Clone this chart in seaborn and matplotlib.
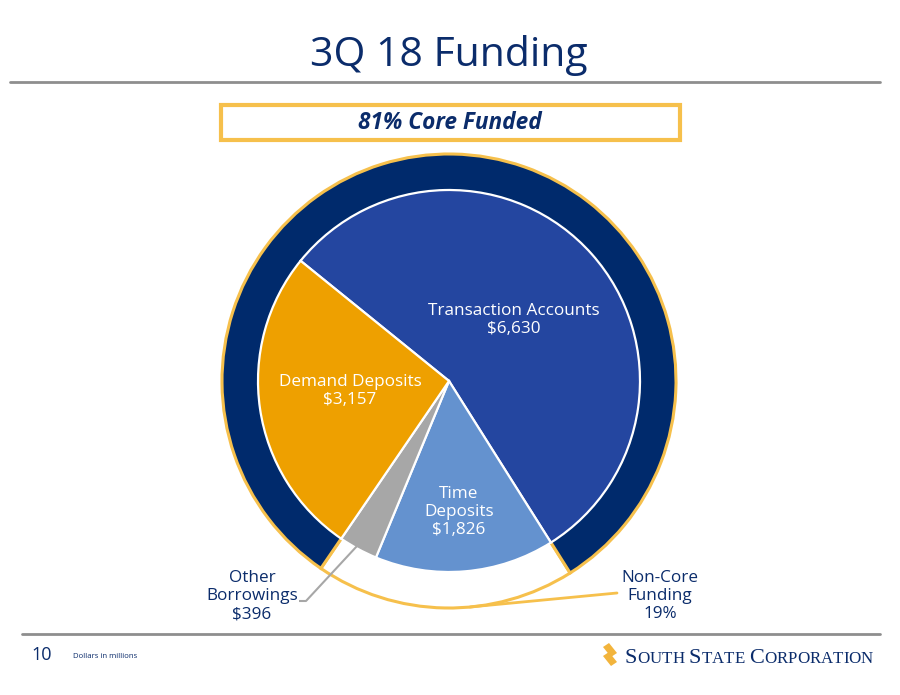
import numpy as np
import pandas as pd
import matplotlib
matplotlib.use("Agg")
import matplotlib.pyplot as plt
import seaborn as sns
from matplotlib.patches import Rectangle, Polygon

# ---- data ----
categories = ["Transaction Accounts", "Time Deposits", "Other Borrowings", "Demand Deposits"]
values = [6630, 1826, 396, 3157]
value_labels = ["$6,630", "$1,826", "$396", "$3,157"]
core_flags = [True, False, False, True]
core_pct = 81
noncore_pct = 19

title = "3Q 18 Funding"
box_text = f"{core_pct}% Core Funded"
footer_note = "Dollars in millions"
page_no = "10"

# ---- style ----
sns.set_theme(style="white")
plt.rcParams["font.family"] = ["Open Sans", "DejaVu Sans"]

navy = "#0B2C6B"
ring_navy = "#002A6C"
pal = {"Transaction Accounts": "#2446A0", "Time Deposits": "#6492CF",
       "Other Borrowings": "#A7A7A7", "Demand Deposits": "#EEA000"}
gold = "#F6C04C"
grey_line = "#8E8E8E"

df = pd.DataFrame({"category": categories, "value": values, "label": value_labels, "core": core_flags})
total = df["value"].sum()
core_sum = df.loc[df.core, "value"].sum()
noncore_sum = df.loc[~df.core, "value"].sum()

W, H = 900, 695
fig = plt.figure(figsize=(W / 100, H / 100), dpi=100)
ax = fig.add_axes([0, 0, 1, 1])


def Y(y):
    return H - y


cx, cy = 449, Y(381)
start = 141

# outer ring: non-core (white) then core (navy)
ring_start = start - 360 * df["value"].iloc[0] / total
ax.pie([noncore_sum, core_sum], colors=["white", ring_navy], startangle=ring_start,
       counterclock=False, radius=227, center=(cx, cy), frame=True,
       wedgeprops=dict(width=42, edgecolor=gold, linewidth=2.2))

# inner pie
ax.pie(df["value"], colors=[pal[c] for c in df["category"]], startangle=start,
       counterclock=False, radius=191, center=(cx, cy), frame=True,
       wedgeprops=dict(edgecolor="white", linewidth=1.6))

ax.set_xlim(0, W)
ax.set_ylim(0, H)
ax.set_aspect("equal")
ax.axis("off")

lab_fs = 12.3
ax.text(514, Y(320), "Transaction Accounts\n" + value_labels[0], color="white", ha="center",
        va="center", fontsize=lab_fs, linespacing=1.2)
ax.text(350, Y(391), "Demand Deposits\n" + value_labels[3], color="white", ha="center",
        va="center", fontsize=lab_fs, linespacing=1.2)
ax.text(459, Y(512), "Time\nDeposits\n" + value_labels[1], color="white", ha="center",
        va="center", fontsize=lab_fs, linespacing=1.2)
ax.text(252, Y(596), "Other\nBorrowings\n" + value_labels[2], color=navy, ha="center",
        va="center", fontsize=lab_fs, linespacing=1.2)
ax.text(660, Y(596), f"Non-Core\nFunding\n{noncore_pct}%", color=navy, ha="center",
        va="center", fontsize=lab_fs, linespacing=1.2)

# leader lines
ax.plot([299, 306, 357], [Y(601), Y(601), Y(546)], color="#A7A7A7", lw=1.5, solid_capstyle="butt")
ax.plot([617, 470], [Y(593), Y(607)], color=gold, lw=2)

# title and rules
ax.text(449, Y(55), title, color=navy, ha="center", va="center", fontsize=29.5)
ax.plot([10, 880], [Y(82), Y(82)], color=grey_line, lw=2)
ax.plot([22, 880], [Y(634), Y(634)], color=grey_line, lw=2)

# core funded box
ax.add_patch(Rectangle((221, Y(140)), 459, 35, facecolor="white", edgecolor=gold, lw=3, zorder=3))
ax.text(450, Y(123), box_text, color=navy, ha="center", va="center", fontsize=16.3,
        fontweight="bold", fontstyle="italic", zorder=4)

# footer
ax.text(42, Y(655), page_no, color=navy, ha="center", va="center", fontsize=13)
ax.text(73, Y(656), footer_note, color=navy, ha="left", va="center", fontsize=5.6)

# logo mark
ax.add_patch(Polygon([(603, Y(647)), (609, Y(643)), (617, Y(653)), (611, Y(657))], closed=True,
                     facecolor="#F2B43C", edgecolor="none"))
ax.add_patch(Polygon([(603, Y(656)), (609, Y(652)), (617, Y(662)), (611, Y(666))], closed=True,
                     facecolor="#F2B43C", edgecolor="none"))

# small caps company name
fig.canvas.draw()
renderer = fig.canvas.get_renderer()
x = 625
base = Y(663)
serif = ["Liberation Serif", "DejaVu Serif"]
for word_i, word in enumerate(["SOUTH", "STATE", "CORPORATION"]):
    for j, ch in enumerate(word):
        fs = 16 if j == 0 else 12.2
        t = ax.text(x, base, ch, color=navy, ha="left", va="baseline", fontsize=fs, family=serif)
        bb = t.get_window_extent(renderer)
        x += bb.width
    x += 4.5

fig.savefig("out.png", dpi=100)
